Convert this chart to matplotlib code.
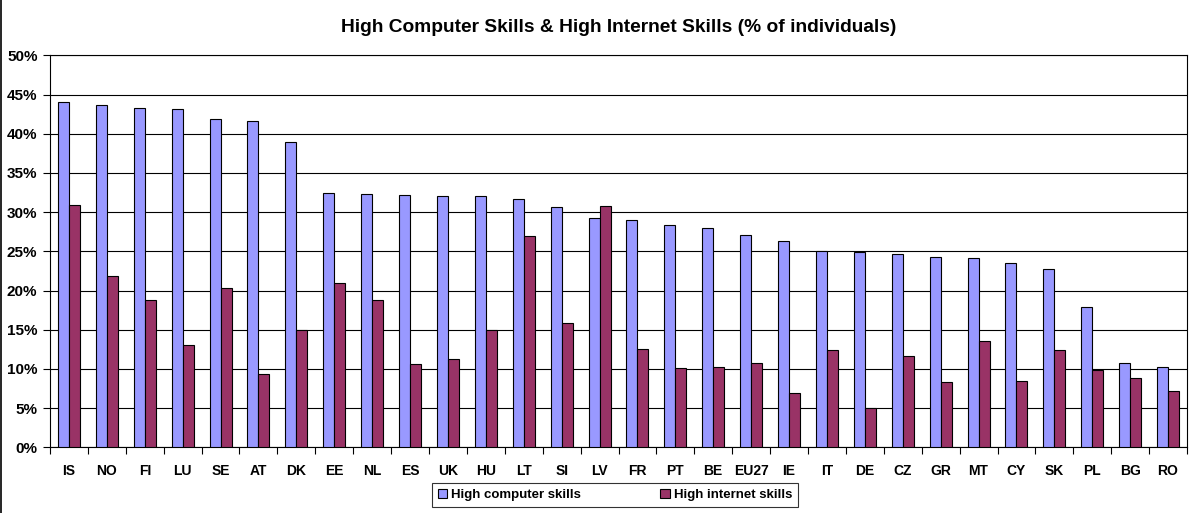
import matplotlib
matplotlib.use("Agg")
import matplotlib.pyplot as plt
import numpy as np
from matplotlib.lines import Line2D

countries = ["IS", "NO", "FI", "LU", "SE", "AT", "DK", "EE", "NL", "ES", "UK", "HU", "LT", "SI", "LV",
             "FR", "PT", "BE", "EU27", "IE", "IT", "DE", "CZ", "GR", "MT", "CY", "SK", "PL", "BG", "RO"]
computer = [44.1, 43.6, 43.3, 43.1, 41.9, 41.6, 39.0, 32.4, 32.3, 32.2, 32.05, 32.05, 31.7, 30.6, 29.3,
            29.0, 28.3, 28.0, 27.1, 26.3, 25.0, 24.9, 24.6, 24.3, 24.1, 23.5, 22.8, 17.9, 10.8, 10.2]
internet = [30.9, 21.9, 18.8, 13.05, 20.3, 9.3, 14.9, 20.9, 18.8, 10.6, 11.3, 14.9, 27.0, 15.8, 30.8,
            12.5, 10.1, 10.3, 10.8, 6.9, 12.4, 5.0, 11.7, 8.3, 13.5, 8.45, 12.4, 9.86, 8.9, 7.2]
yticks = [0, 5, 10, 15, 20, 25, 30, 35, 40, 45, 50]
title = "High Computer Skills & High Internet Skills (% of individuals)"
labels = ["High computer skills", "High internet skills"]

plt.rcParams['font.family'] = ['Liberation Sans', 'DejaVu Sans']
fig = plt.figure(figsize=(11.99, 5.13), dpi=100)
ax = fig.add_axes([50/1199, 65.7/513, (1187-50)/1199, (457.7-65.7)/513])

x = np.arange(len(countries))
w = 0.29
ax.bar(x - w/2, computer, width=w, color="#9999FF", edgecolor="black", linewidth=0.8, label=labels[0], zorder=3)
ax.bar(x + w/2, internet, width=w, color="#993366", edgecolor="black", linewidth=0.8, label=labels[1], zorder=3)

ax.set_xlim(-0.5, len(countries) - 0.5)
ax.set_ylim(0, 50)
ax.set_yticks(yticks)
ax.set_yticklabels([f"{v}%" for v in yticks], fontweight="bold", fontsize=11)
ax.yaxis.grid(True, color="black", linewidth=0.8, zorder=0)
ax.set_axisbelow(True)

ax.set_xticks(np.arange(len(countries) + 1) - 0.5)
ax.set_xticklabels([])
ax.set_xticks(x, minor=True)
ax.set_xticklabels(countries, minor=True, fontweight="bold", fontsize=10)
ax.tick_params(axis="x", which="major", length=5, width=0.8, direction="out")
ax.tick_params(axis="x", which="minor", length=0, pad=12)
ax.tick_params(axis="y", length=5, width=0.8, direction="out", pad=4)
for s in ax.spines.values():
    s.set_color("black")
    s.set_linewidth(0.8)

ax.set_title(title, fontweight="bold", fontsize=13.8, pad=17)

leg = fig.legend(loc="center", bbox_to_anchor=(615/1199, 1 - 495/513), ncol=2, frameon=True,
                 fancybox=False, edgecolor="black", prop={"weight": "bold", "size": 9.5},
                 handlelength=0.7, handleheight=0.7, handletextpad=0.3, columnspacing=6.0,
                 borderpad=0.45, borderaxespad=0)
leg.get_frame().set_linewidth(0.8)

fig.add_artist(Line2D([0.0008, 0.0008], [0, 1], transform=fig.transFigure, color="black", linewidth=1.2))

fig.savefig("out.png", dpi=100)
